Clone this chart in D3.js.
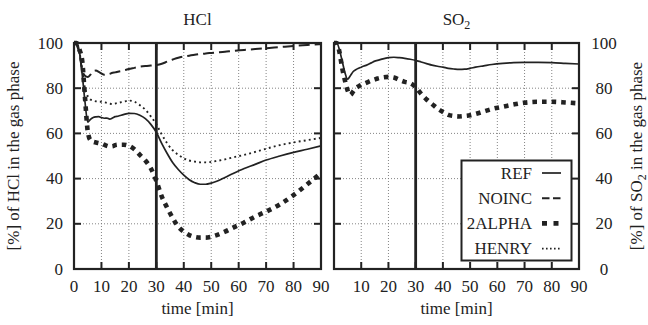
<!DOCTYPE html>
<html>
<head>
<meta charset="utf-8">
<script src="https://cdn.jsdelivr.net/npm/d3@7"></script>
<style>
  html, body { margin: 0; padding: 0; background: #fff; }
  svg { display: block; }
</style>
</head>
<body>
<svg id="chart" width="648" height="325"></svg>
<script>
// Sampling times [min] shared by all series
const time = [0,1,2,3,4,5,6,7,8,9,10,11,12,13,14,15,16,18,20,22,24,26,28,30,32,34,36,38,40,42,44,46,48,50,52,55,58,62,66,70,75,80,85,90];

// HCl remaining in the gas phase [%]
const hclRef    = [100,100,96,86,74,65,66.2,67,67.3,67.4,67,66.7,66.8,66.3,66.8,67.4,67.6,68.3,68.9,68.8,68,66.5,64,60.5,55.5,51,47,44,41.5,39.5,38.2,37.5,37.5,38,38.8,40.5,42.3,44.5,46.3,48.2,50,51.6,53,54.5];
const hclNoinc  = [100,99,95,88,85.5,85,86,87.5,87.8,87.2,86.5,86,86,86.3,86.8,87,87.3,87.8,88.5,89,89.5,89.8,90,90.2,90.8,91.8,92.7,93.5,94,94.4,94.8,95.1,95.4,95.6,95.8,96.1,96.5,96.9,97.3,97.7,98.2,98.7,99.1,99.5];
const hcl2Alpha = [100,100,97,92,76,61,57,56.3,56,55.7,55.5,55,54.5,54.2,54.3,54.8,55,55,54.5,53,50.5,48,44.5,39,32,27,22.5,18.7,16.5,15,14.2,13.9,13.9,14.3,15,16.5,18.3,20.6,23.2,25.4,28.6,32.7,37.5,42.5];
const hclHenry  = [100,100,96,88,80,76.5,75,74.5,74.2,74,74,73.8,73.5,73.2,73,73.2,73.5,74,74.5,74,72.5,70.5,67.5,64,59.5,55.5,52.5,50.5,49,48,47.5,47.2,47.2,47.4,47.8,48.5,49.4,50.5,51.8,53.2,54.8,56,57,58];

// SO2 remaining in the gas phase [%]
const so2Ref    = [100,100,97,92,87,84,85.5,87.3,88.2,88.8,89.3,89.8,90.2,90.8,91.4,92,92.3,93,93.5,93.7,93.5,93.2,92.8,92.3,91.6,90.9,90.2,89.7,89.3,88.8,88.5,88.3,88.4,88.8,89.3,89.9,90.5,91,91.3,91.4,91.4,91.3,91,90.7];
const so22Alpha = [100,100,96,89,83.5,79,77,78.5,80,80.8,81.5,82,82.5,83,83.5,83.9,84.3,84.8,85,84.7,83.7,82.8,82.2,80.5,77.5,75,73,71,69.5,68.2,67.7,67.5,67.7,68,68.6,69.7,70.8,71.8,72.8,73.6,74,74,73.7,73.3];

// Axis ticks and legend
const xTicks = [0,10,20,30,40,50,60,70,80,90];
const yTicks = [0,20,40,60,80,100];
const seriesNames = ["REF","NOINC","2ALPHA","HENRY"];
const switchTime = 30;

const ink = "#222";
const fontFamily = "'Liberation Serif'";
const fontSize = 17;
const subSize = 12;
const styles = {
  REF:    { width: 1.7, dash: null,      legendDash: null },
  NOINC:  { width: 2,   dash: "11,5",    legendDash: "7.5,3.5" },
  "2ALPHA": { width: 4.6, dash: "4.6,5", legendDash: "5,6.5" },
  HENRY:  { width: 1.9, dash: "1.9,3.2", legendDash: "1.6,2.4" }
};

const svg = d3.select("#chart");
const plotTop = 43, plotBottom = 269;
const y = d3.scaleLinear().domain([0, 100]).range([plotBottom, plotTop]);

function label(sel) {
  return sel.append("text").attr("font-family", fontFamily).attr("fill", ink).attr("font-size", fontSize);
}

const panels = [
  { x0: 74, x1: 321, title: "HCl", sub: null, side: "left",
    series: [["NOINC", hclNoinc], ["HENRY", hclHenry], ["REF", hclRef], ["2ALPHA", hcl2Alpha]] },
  { x0: 334, x1: 579, title: "SO", sub: "2", side: "right",
    series: [["REF", so2Ref], ["2ALPHA", so22Alpha]] }
];

panels.forEach((p, pi) => {
  const x = d3.scaleLinear().domain([0, 90]).range([p.x0, p.x1]);
  const g = svg.append("g");

  // dotted grid
  const grid = g.append("g").attr("stroke", "#777").attr("stroke-width", 0.9).attr("stroke-dasharray", "1,2");
  xTicks.slice(1, -1).forEach(t => grid.append("line").attr("x1", x(t)).attr("x2", x(t)).attr("y1", plotTop).attr("y2", plotBottom));
  yTicks.slice(1, -1).forEach(v => grid.append("line").attr("x1", p.x0).attr("x2", p.x1).attr("y1", y(v)).attr("y2", y(v)));

  // inward ticks on all four sides
  const tl = 7;
  const ticks = g.append("g").attr("stroke", ink).attr("stroke-width", 2);
  xTicks.slice(1, -1).forEach(t => {
    ticks.append("line").attr("x1", x(t)).attr("x2", x(t)).attr("y1", plotBottom).attr("y2", plotBottom - tl);
    ticks.append("line").attr("x1", x(t)).attr("x2", x(t)).attr("y1", plotTop).attr("y2", plotTop + tl);
  });
  yTicks.slice(1, -1).forEach(v => {
    ticks.append("line").attr("x1", p.x0).attr("x2", p.x0 + tl).attr("y1", y(v)).attr("y2", y(v));
    ticks.append("line").attr("x1", p.x1).attr("x2", p.x1 - tl).attr("y1", y(v)).attr("y2", y(v));
  });

  // data curves
  const line = d3.line().x((d, i) => x(time[i])).y(d => y(d)).curve(d3.curveMonotoneX);
  p.series.forEach(([name, vals]) => {
    const s = styles[name];
    g.append("path").datum(vals).attr("d", line)
      .attr("fill", "none").attr("stroke", ink)
      .attr("stroke-width", s.width)
      .attr("stroke-linejoin", "round")
      .attr("stroke-dasharray", s.dash);
  });

  // marker for the switch time
  g.append("line").attr("x1", x(switchTime)).attr("x2", x(switchTime)).attr("y1", plotTop).attr("y2", plotBottom)
    .attr("stroke", ink).attr("stroke-width", 2.8);

  // frame
  g.append("rect").attr("x", p.x0).attr("y", plotTop).attr("width", p.x1 - p.x0).attr("height", plotBottom - plotTop)
    .attr("fill", "none").attr("stroke", ink).attr("stroke-width", 2.2);

  // x tick labels (the right panel leaves out its 0)
  xTicks.forEach(t => {
    if (pi === 1 && t === 0) return;
    label(g).attr("x", x(t)).attr("y", 291.5).attr("text-anchor", "middle").text(t);
  });

  // y tick labels
  yTicks.forEach(v => {
    if (p.side === "left") {
      label(g).attr("x", p.x0 - 11).attr("y", y(v) + 5.5).attr("text-anchor", "end").text(v);
    } else {
      label(g).attr("x", 604).attr("y", y(v) + 5.5).attr("text-anchor", "middle").text(v);
    }
  });

  const cx = (p.x0 + p.x1) / 2;
  // x axis title
  label(g).attr("x", cx).attr("y", 314).attr("text-anchor", "middle").text("time [min]");

  // panel title
  const tt = label(g).attr("x", cx).attr("y", 25).attr("text-anchor", "middle");
  tt.append("tspan").text(p.title);
  if (p.sub) tt.append("tspan").attr("font-size", subSize).attr("dy", 4).text(p.sub);

  // y axis title
  const cy = (plotTop + plotBottom) / 2;
  const lx = p.side === "left" ? 19 : 642;
  const yl = label(g).attr("transform", `translate(${lx},${cy}) rotate(-90)`).attr("text-anchor", "middle");
  if (p.side === "left") {
    yl.text("[%] of HCl in the gas phase");
  } else {
    yl.append("tspan").text("[%] of SO");
    yl.append("tspan").attr("font-size", subSize).attr("dy", 4).text("2");
    yl.append("tspan").attr("dy", -4).text(" in the gas phase");
  }
});

// legend
const lg = svg.append("g");
lg.append("rect").attr("x", 461.5).attr("y", 160.5).attr("width", 110).attr("height", 100)
  .attr("fill", "#fff").attr("stroke", ink).attr("stroke-width", 2);
seriesNames.forEach((name, i) => {
  const by = 178.5 + i * 25.2;
  label(lg).attr("x", 532).attr("y", by).attr("text-anchor", "end").text(name);
  const s = styles[name];
  lg.append("line").attr("x1", 542).attr("x2", 561).attr("y1", by - 5.5).attr("y2", by - 5.5)
    .attr("stroke", ink).attr("stroke-width", s.width).attr("stroke-dasharray", s.legendDash);
});
</script>
</body>
</html>
